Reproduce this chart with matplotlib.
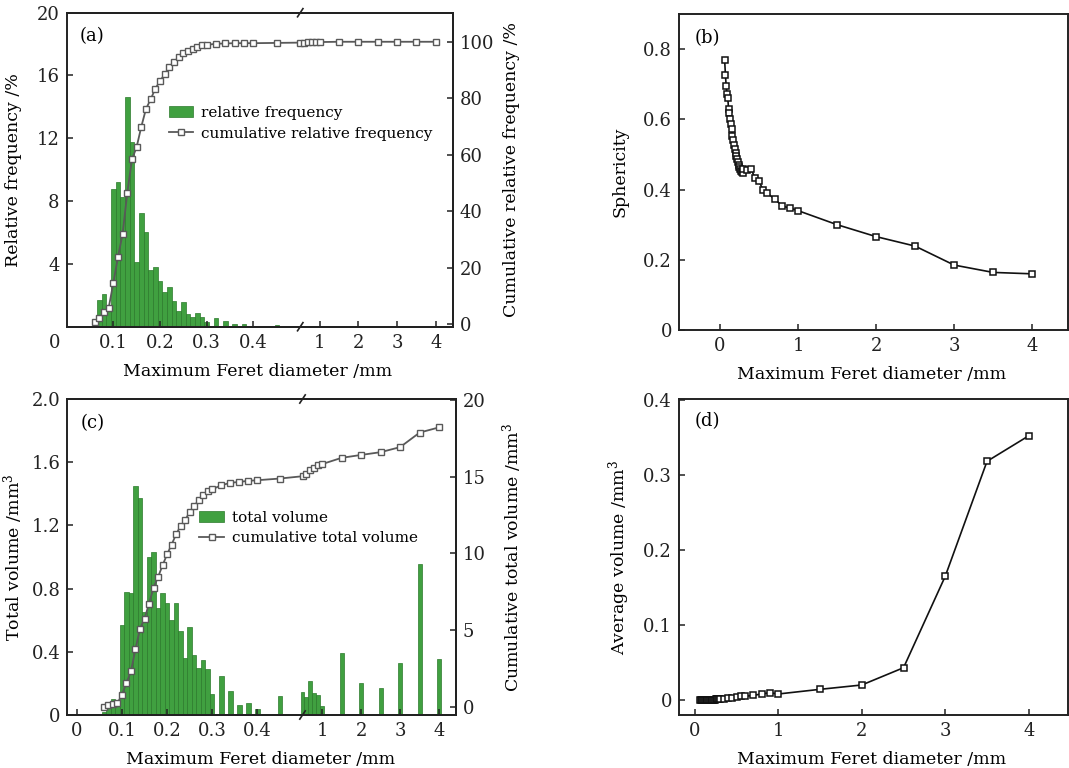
import numpy as np
import matplotlib
matplotlib.use('Agg')
import matplotlib.pyplot as plt
from matplotlib.patches import Patch
from matplotlib.lines import Line2D
from matplotlib.ticker import FixedLocator, FixedFormatter

plt.rcParams['font.family'] = ['DejaVu Serif']
plt.rcParams['mathtext.fontset'] = 'dejavuserif'

# ---------------- data ----------------
# size classes used in panels (a) and (c)
diam_ac = [0.06, 0.07, 0.08, 0.09, 0.10, 0.11, 0.12, 0.13, 0.14, 0.15,
           0.16, 0.17, 0.18, 0.19, 0.20, 0.21, 0.22, 0.23, 0.24, 0.25,
           0.26, 0.27, 0.28, 0.29, 0.30,
           0.32, 0.34, 0.36, 0.38, 0.40, 0.45,
           0.5, 0.6, 0.7, 0.8, 0.9, 1.0, 1.5, 2.0, 2.5, 3.0, 3.5, 4.0]
rel_freq = [0.4, 1.7, 2.1, 1.3, 8.8, 9.24, 8.28, 14.65, 11.78, 4.14,
            7.26, 6.05, 3.6, 3.83, 2.93, 2.23, 2.5, 1.63, 1.0, 1.6,
            0.8, 0.64, 0.85, 0.6, 0.32,
            0.53, 0.34, 0.15, 0.15, 0.04, 0.13,
            0.05, 0.03, 0.05, 0.03, 0.03, 0.02, 0.03, 0.01, 0.01, 0.01, 0.02, 0.01]
cum_freq = [0.7, 2.2, 4.1, 5.5, 14.4, 23.7, 31.9, 46.5, 58.3, 62.7,
            69.9, 76.2, 79.6, 83.4, 86.1, 88.5, 91.1, 92.9, 94.5, 95.9,
            96.8, 97.6, 98.2, 98.7, 98.9,
            99.3, 99.4, 99.5, 99.5, 99.5, 99.6,
            99.7, 99.7, 99.8, 99.8, 99.9, 99.9, 100, 100, 100, 100, 100, 100]
total_vol = [0.02, 0.085, 0.10, 0.07, 0.57, 0.78, 0.77, 1.45, 1.376, 0.65,
             1.00, 1.03, 0.68, 0.77, 0.71, 0.60, 0.71, 0.53, 0.36, 0.56,
             0.38, 0.30, 0.35, 0.29, 0.13,
             0.25, 0.155, 0.064, 0.074, 0.038, 0.12,
             0.143, 0.116, 0.217, 0.137, 0.127, 0.059, 0.395, 0.205, 0.173, 0.331, 0.954, 0.352]
cum_vol = [0.0, 0.07, 0.15, 0.22, 0.78, 1.54, 2.3, 3.75, 5.08, 5.73,
           6.71, 7.76, 8.45, 9.22, 9.93, 10.57, 11.24, 11.79, 12.16, 12.70,
           13.09, 13.46, 13.79, 14.05, 14.18,
           14.44, 14.6, 14.66, 14.73, 14.77, 14.88,
           15.03, 15.18, 15.45, 15.6, 15.75, 15.82, 16.23, 16.42, 16.6, 16.93, 17.88, 18.22]

# size classes used in panels (b) and (d)
diam_bd = [0.06, 0.07, 0.08, 0.09, 0.10, 0.11, 0.12, 0.13, 0.14, 0.15,
           0.16, 0.17, 0.18, 0.19, 0.20, 0.21, 0.22, 0.23, 0.24, 0.25,
           0.26, 0.27, 0.28, 0.29, 0.30,
           0.35, 0.40, 0.45, 0.50, 0.55, 0.60, 0.7, 0.8, 0.9, 1.0,
           1.5, 2.0, 2.5, 3.0, 3.5, 4.0]
sphericity = [0.769, 0.726, 0.694, 0.672, 0.662, 0.630, 0.618, 0.600, 0.587, 0.572,
              0.553, 0.540, 0.527, 0.515, 0.505, 0.495, 0.486, 0.478, 0.470, 0.464,
              0.459, 0.454, 0.449, 0.447, 0.458,
              0.456, 0.458, 0.432, 0.425, 0.399, 0.391, 0.373, 0.353, 0.347, 0.340,
              0.300, 0.266, 0.239, 0.185, 0.164, 0.160]
avg_vol = [0.0000, 0.0001, 0.0001, 0.0001, 0.0001, 0.0001, 0.0002, 0.0002, 0.0002, 0.0002,
           0.0003, 0.0003, 0.0003, 0.0004, 0.0004, 0.0005, 0.0005, 0.0006, 0.0006, 0.0007,
           0.0007, 0.0008, 0.0009, 0.0010, 0.0011,
           0.0015, 0.0020, 0.0030, 0.0040, 0.0048, 0.0050, 0.0060, 0.0082, 0.0096, 0.0080,
           0.0142, 0.0200, 0.0430, 0.1650, 0.3180, 0.3520]

left_ticks = [0.1, 0.2, 0.3, 0.4]
right_ticks = [1, 2, 3, 4]

# ---------------- style ----------------
GREEN = '#40a040'
GREEN_EDGE = '#2b7a2b'
GRAY = '#595959'
TICK_FS = 13
LAB_FS = 12.5
LEG_FS = 11

W, H = 1069, 768
fig = plt.figure(figsize=(W / 100, H / 100), dpi=100)


def add_ax(l, r, t, b):
    return fig.add_axes([l / W, 1 - b / H, (r - l) / W, (b - t) / H])


def make_scale(k, brk=0.5):
    def fwd(x):
        x = np.asarray(x, dtype=float)
        return np.where(x <= brk, x, brk + (x - brk) * k)

    def inv(y):
        y = np.asarray(y, dtype=float)
        return np.where(y <= brk, y, brk + (y - brk) / k)
    return fwd, inv


def style_axis(ax):
    for s in ax.spines.values():
        s.set_linewidth(1.4)
        s.set_color('#222222')
    ax.tick_params(direction='in', length=4, width=1.1, labelsize=TICK_FS, pad=5,
                   colors='#222222')


def broken_panel(ax, xs, bars, cum, k, xlim, ylim_l, ylim_r, yt_l, yl_l, yt_r,
                 ylab_l, ylab_r, panel, legend_labels, leg_anchor, zero_corner,
                 xticks0):
    fwd, inv = make_scale(k)
    ax2 = ax.twinx()
    ax.set_xscale('function', functions=(fwd, inv))
    ax.set_xlim(*xlim)
    xs_a = np.asarray(xs)
    t = fwd(xs_a)
    hw = np.where(xs_a < 0.5, 0.005, 0.0043)
    lo = inv(t - hw)
    hi = inv(t + hw)
    ax.bar(lo, bars, width=hi - lo, bottom=0, align='edge', color=GREEN,
           edgecolor=GREEN_EDGE, linewidth=0.5)
    ax2.plot(xs, cum, color=GRAY, lw=1.3, marker='s', ms=4.3, mfc='white',
             mec=GRAY, mew=1.0)
    ax.set_ylim(*ylim_l)
    ax2.set_ylim(*ylim_r)
    ax.set_xlim(*xlim)
    style_axis(ax)
    style_axis(ax2)
    ax2.spines['left'].set_visible(False)
    xt = xticks0 + left_ticks + right_ticks
    xl = [('0' if v == 0 else ('%g' % v)) for v in xt]
    ax.xaxis.set_major_locator(FixedLocator(xt))
    ax.xaxis.set_major_formatter(FixedFormatter(xl))
    ax.xaxis.set_minor_locator(FixedLocator([]))
    ax.yaxis.set_major_locator(FixedLocator(yt_l))
    ax.yaxis.set_major_formatter(FixedFormatter(yl_l))
    ax2.yaxis.set_major_locator(FixedLocator(yt_r))
    ax2.yaxis.set_major_formatter(FixedFormatter(['%g' % v for v in yt_r]))
    ax.tick_params(axis='y', right=False)
    ax2.tick_params(axis='y', left=False)
    ax.set_ylabel(ylab_l, fontsize=LAB_FS)
    ax2.set_ylabel(ylab_r, fontsize=LAB_FS)
    ax.set_xlabel('Maximum Feret diameter /mm', fontsize=LAB_FS)
    # break marks on the top and bottom spine
    f0, f1, fb = fwd(xlim[0]), fwd(xlim[1]), fwd(0.5)
    xf = float((fb - f0) / (f1 - f0))
    for yb in (0.0, 1.0):
        ax2.plot([xf - 0.007, xf + 0.007], [yb - 0.013, yb + 0.013],
                 transform=ax2.transAxes, color='#222222', lw=1.2, clip_on=False)
    ax.text(0.035, 0.925, panel, transform=ax.transAxes, fontsize=TICK_FS,
            va='center', ha='left')
    if zero_corner:
        ax.annotate('0', xy=(-0.03, 0), xycoords='axes fraction', xytext=(0, -5),
                    textcoords='offset points', ha='center', va='top',
                    fontsize=TICK_FS, color='#222222')
    handles = [Patch(facecolor=GREEN, edgecolor=GREEN_EDGE, linewidth=0.5),
               Line2D([], [], color=GRAY, lw=1.3, marker='s', ms=4.3,
                      mfc='white', mec=GRAY, mew=1.0)]
    ax2.legend(handles, legend_labels, loc='upper left', bbox_to_anchor=leg_anchor,
               frameon=False, fontsize=LEG_FS, handlelength=1.6,
               handletextpad=0.5, labelspacing=0.45, borderaxespad=0,
               borderpad=0)
    return ax2


# ---------------- panel (a) ----------------
axA = add_ax(66.5, 452.5, 12.7, 326.7)
axA2 = broken_panel(axA, diam_ac, rel_freq, cum_freq, 38.7 / 467, (0.0, 4.43),
                    (0, 20), (-0.95, 110.3), [4, 8, 12, 16, 20],
                    ['4', '8', '12', '16', '20'], [0, 20, 40, 60, 80, 100],
                    'Relative frequency /%', 'Cumulative relative frequency /%',
                    '(a)', ['relative frequency', 'cumulative relative frequency'],
                    (0.265, 0.703), True, [])
axA.yaxis.set_label_coords(-0.115, 0.5)
axA2.yaxis.set_label_coords(1.13, 0.5)
axA.xaxis.set_label_coords(0.496, -0.115)

# ---------------- panel (c) ----------------
axC = add_ax(67.3, 456, 399, 715)
axC2 = broken_panel(axC, diam_ac, total_vol, cum_vol, 39.1 / 452, (-0.021, 4.43),
                    (0, 2.0), (-0.55, 20.07), [0, 0.4, 0.8, 1.2, 1.6, 2.0],
                    ['0', '0.4', '0.8', '1.2', '1.6', '2.0'], [0, 5, 10, 15, 20],
                    'Total volume /mm$^3$', 'Cumulative total volume /mm$^3$',
                    '(c)', ['total volume', 'cumulative total volume'],
                    (0.34, 0.647), False, [0])
axC.yaxis.set_label_coords(-0.11, 0.5)
axC2.yaxis.set_label_coords(1.113, 0.5)
axC.xaxis.set_label_coords(0.496, -0.115)

# ---------------- panel (b) ----------------
axB = add_ax(679, 1068, 14, 330)
axB.plot(diam_bd, sphericity, color='#111111', lw=1.2, marker='s', ms=5,
         mfc='white', mec='#111111', mew=1.1)
axB.set_xlim(-0.525, 4.46)
axB.set_ylim(0, 0.9)
style_axis(axB)
axB.xaxis.set_major_locator(FixedLocator([0, 1, 2, 3, 4]))
axB.yaxis.set_major_locator(FixedLocator([0, 0.2, 0.4, 0.6, 0.8]))
axB.yaxis.set_major_formatter(FixedFormatter(['0', '0.2', '0.4', '0.6', '0.8']))
axB.set_ylabel('Sphericity', fontsize=LAB_FS)
axB.set_xlabel('Maximum Feret diameter /mm', fontsize=LAB_FS)
axB.yaxis.set_label_coords(-0.13, 0.5)
axB.xaxis.set_label_coords(0.496, -0.115)
axB.text(0.041, 0.924, '(b)', transform=axB.transAxes, fontsize=TICK_FS,
         va='center', ha='left')

# ---------------- panel (d) ----------------
axD = add_ax(679, 1068, 399, 715)
axD.plot(diam_bd, avg_vol, color='#111111', lw=1.2, marker='s', ms=5,
         mfc='white', mec='#111111', mew=1.1)
axD.set_xlim(-0.19, 4.47)
axD.set_ylim(-0.02, 0.401)
style_axis(axD)
axD.xaxis.set_major_locator(FixedLocator([0, 1, 2, 3, 4]))
axD.yaxis.set_major_locator(FixedLocator([0, 0.1, 0.2, 0.3, 0.4]))
axD.yaxis.set_major_formatter(FixedFormatter(['0', '0.1', '0.2', '0.3', '0.4']))
axD.set_ylabel('Average volume /mm$^3$', fontsize=LAB_FS)
axD.set_xlabel('Maximum Feret diameter /mm', fontsize=LAB_FS)
axD.yaxis.set_label_coords(-0.12, 0.5)
axD.xaxis.set_label_coords(0.496, -0.115)
axD.text(0.041, 0.93, '(d)', transform=axD.transAxes, fontsize=TICK_FS,
         va='center', ha='left')

fig.savefig('out.png', dpi=100)
